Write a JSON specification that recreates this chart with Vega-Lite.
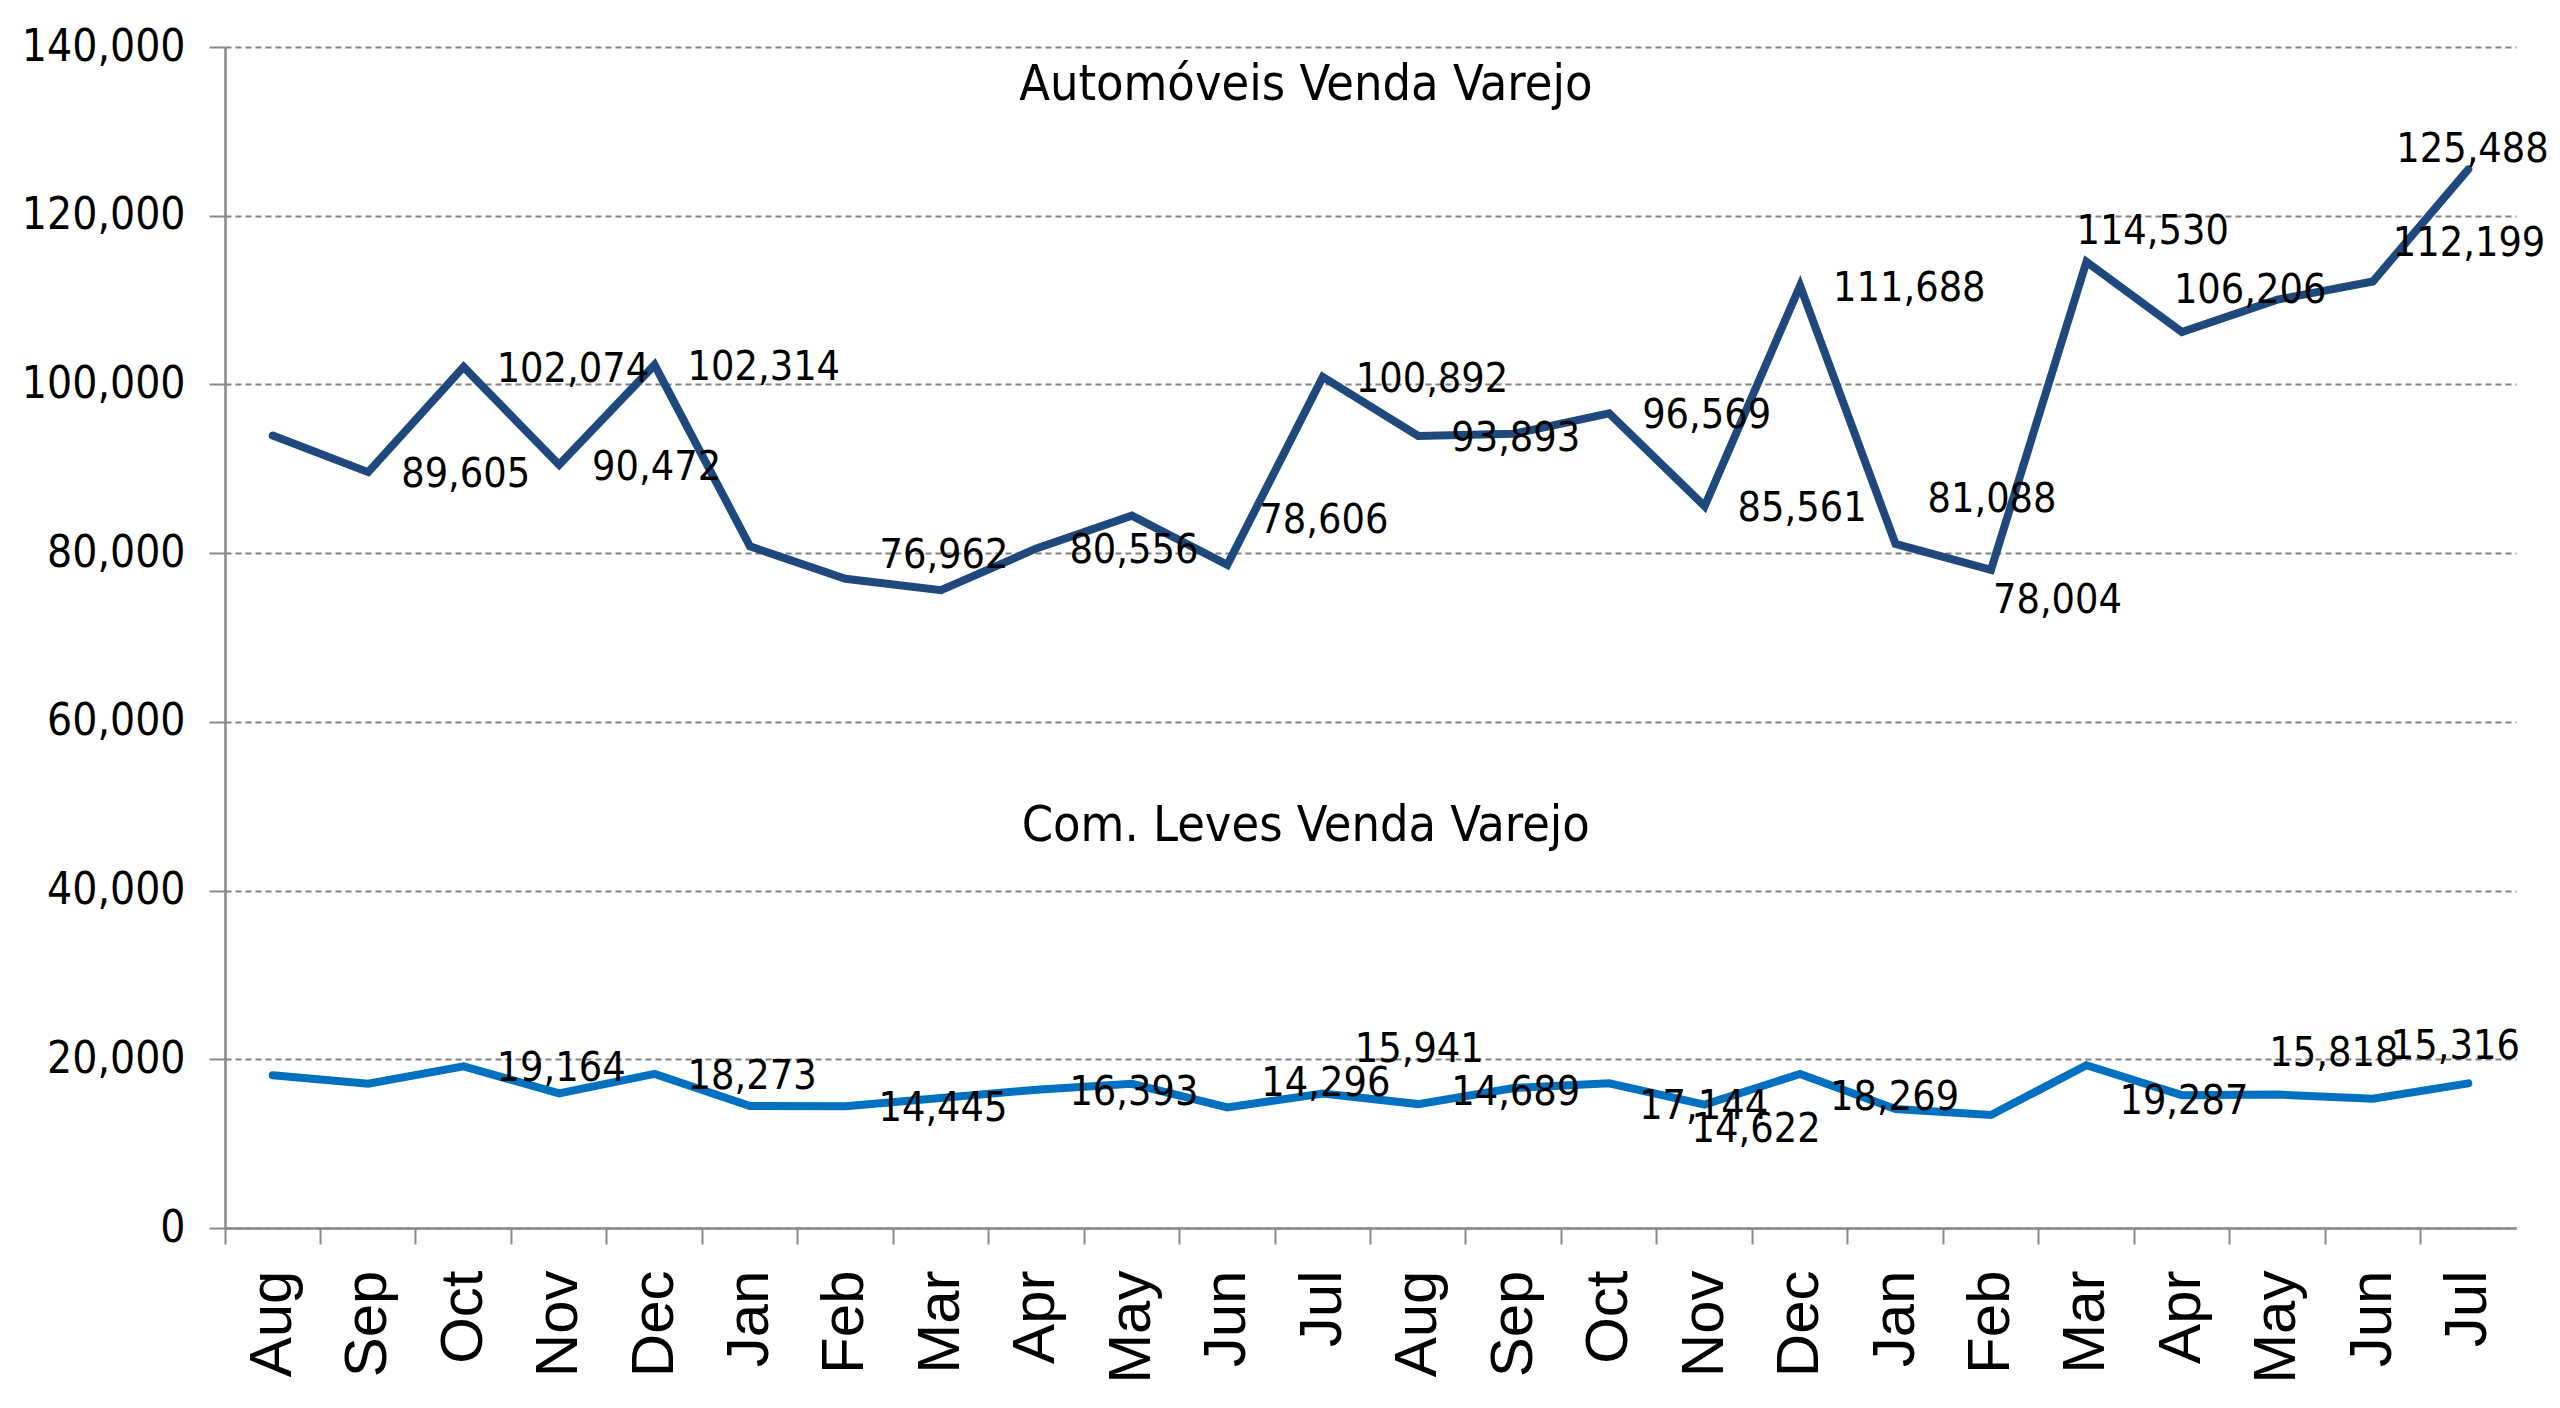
{
  "$schema": "https://vega.github.io/schema/vega-lite/v6.json",
  "width": 2291,
  "height": 1181,
  "autosize": {"type": "none"},
  "padding": {"left": 225, "top": 47, "right": 44, "bottom": 180},
  "background": "white",
  "config": {
    "view": {"stroke": null},
    "font": "Liberation Sans Narrow, DejaVu Sans Condensed, Liberation Sans, sans-serif"
  },
  "data": {
    "values": [
      {"k": "01 Aug", "serie": "Automóveis Venda Varejo", "valor": 93940},
      {"k": "02 Sep", "serie": "Automóveis Venda Varejo", "valor": 89605},
      {"k": "03 Oct", "serie": "Automóveis Venda Varejo", "valor": 102074},
      {"k": "04 Nov", "serie": "Automóveis Venda Varejo", "valor": 90472},
      {"k": "05 Dec", "serie": "Automóveis Venda Varejo", "valor": 102314},
      {"k": "06 Jan", "serie": "Automóveis Venda Varejo", "valor": 80800},
      {"k": "07 Feb", "serie": "Automóveis Venda Varejo", "valor": 76962},
      {"k": "08 Mar", "serie": "Automóveis Venda Varejo", "valor": 75600},
      {"k": "09 Apr", "serie": "Automóveis Venda Varejo", "valor": 80556},
      {"k": "10 May", "serie": "Automóveis Venda Varejo", "valor": 84450},
      {"k": "11 Jun", "serie": "Automóveis Venda Varejo", "valor": 78606},
      {"k": "12 Jul", "serie": "Automóveis Venda Varejo", "valor": 100892},
      {"k": "13 Aug", "serie": "Automóveis Venda Varejo", "valor": 93893},
      {"k": "14 Sep", "serie": "Automóveis Venda Varejo", "valor": 94150},
      {"k": "15 Oct", "serie": "Automóveis Venda Varejo", "valor": 96569},
      {"k": "16 Nov", "serie": "Automóveis Venda Varejo", "valor": 85561},
      {"k": "17 Dec", "serie": "Automóveis Venda Varejo", "valor": 111688},
      {"k": "18 Jan", "serie": "Automóveis Venda Varejo", "valor": 81088},
      {"k": "19 Feb", "serie": "Automóveis Venda Varejo", "valor": 78004},
      {"k": "20 Mar", "serie": "Automóveis Venda Varejo", "valor": 114530},
      {"k": "21 Apr", "serie": "Automóveis Venda Varejo", "valor": 106206},
      {"k": "22 May", "serie": "Automóveis Venda Varejo", "valor": 110050},
      {"k": "23 Jun", "serie": "Automóveis Venda Varejo", "valor": 112199},
      {"k": "24 Jul", "serie": "Automóveis Venda Varejo", "valor": 125488},
      {"k": "01 Aug", "serie": "Com. Leves Venda Varejo", "valor": 18100},
      {"k": "02 Sep", "serie": "Com. Leves Venda Varejo", "valor": 17100},
      {"k": "03 Oct", "serie": "Com. Leves Venda Varejo", "valor": 19164},
      {"k": "04 Nov", "serie": "Com. Leves Venda Varejo", "valor": 15950},
      {"k": "05 Dec", "serie": "Com. Leves Venda Varejo", "valor": 18273},
      {"k": "06 Jan", "serie": "Com. Leves Venda Varejo", "valor": 14450},
      {"k": "07 Feb", "serie": "Com. Leves Venda Varejo", "valor": 14445},
      {"k": "08 Mar", "serie": "Com. Leves Venda Varejo", "valor": 15400},
      {"k": "09 Apr", "serie": "Com. Leves Venda Varejo", "valor": 16393},
      {"k": "10 May", "serie": "Com. Leves Venda Varejo", "valor": 17100},
      {"k": "11 Jun", "serie": "Com. Leves Venda Varejo", "valor": 14296},
      {"k": "12 Jul", "serie": "Com. Leves Venda Varejo", "valor": 15941},
      {"k": "13 Aug", "serie": "Com. Leves Venda Varejo", "valor": 14689},
      {"k": "14 Sep", "serie": "Com. Leves Venda Varejo", "valor": 16600},
      {"k": "15 Oct", "serie": "Com. Leves Venda Varejo", "valor": 17144},
      {"k": "16 Nov", "serie": "Com. Leves Venda Varejo", "valor": 14622},
      {"k": "17 Dec", "serie": "Com. Leves Venda Varejo", "valor": 18269},
      {"k": "18 Jan", "serie": "Com. Leves Venda Varejo", "valor": 14100},
      {"k": "19 Feb", "serie": "Com. Leves Venda Varejo", "valor": 13400},
      {"k": "20 Mar", "serie": "Com. Leves Venda Varejo", "valor": 19287},
      {"k": "21 Apr", "serie": "Com. Leves Venda Varejo", "valor": 15750},
      {"k": "22 May", "serie": "Com. Leves Venda Varejo", "valor": 15818},
      {"k": "23 Jun", "serie": "Com. Leves Venda Varejo", "valor": 15316},
      {"k": "24 Jul", "serie": "Com. Leves Venda Varejo", "valor": 17150}
    ]
  },
  "encoding": {
    "x": {
      "field": "k",
      "type": "ordinal",
      "bandPosition": 0.5,
      "scale": {"type": "band", "paddingInner": 0, "paddingOuter": 0},
      "axis": {
        "title": null,
        "labelExpr": "substring(datum.value, 3)",
        "labelAngle": 270,
        "labelAlign": "right",
        "labelBaseline": "middle",
        "labelFont": "Liberation Sans",
        "labelFontSize": 60,
        "labelColor": "black",
        "labelPadding": 26,
        "bandPosition": 0,
        "tickSize": 16,
        "tickColor": "#898989",
        "tickWidth": 2,
        "domainColor": "#898989",
        "domainWidth": 2.5,
        "grid": false
      }
    },
    "y": {
      "field": "valor",
      "type": "quantitative",
      "scale": {"domain": [0, 140000]},
      "axis": {
        "title": null,
        "values": [0, 20000, 40000, 60000, 80000, 100000, 120000, 140000],
        "format": ",d",
        "labelFontSize": 44,
        "labelColor": "black",
        "labelPadding": 24,
        "tickSize": 16,
        "tickColor": "#898989",
        "tickWidth": 2,
        "domainColor": "#898989",
        "domainWidth": 2.5,
        "grid": true,
        "gridColor": "#808080",
        "gridDash": [6, 4],
        "gridWidth": 2
      }
    }
  },
  "layer": [
    {
      "mark": {"type": "line", "strokeWidth": 8, "strokeCap": "round"},
      "encoding": {
        "color": {
          "field": "serie",
          "type": "nominal",
          "scale": {
            "domain": ["Automóveis Venda Varejo", "Com. Leves Venda Varejo"],
            "range": ["#1F497D", "#0070C0"]
          },
          "legend": null
        }
      }
    },
    {
      "transform": [{"filter": "datum.k == '12 Jul' && datum.serie == 'Automóveis Venda Varejo'"}],
      "mark": {"type": "text", "fontSize": 50, "dx": -17, "align": "center", "baseline": "middle", "color": "black"},
      "encoding": {"y": {"datum": 135500}, "text": {"field": "serie"}}
    },
    {
      "transform": [{"filter": "datum.k == '12 Jul' && datum.serie == 'Com. Leves Venda Varejo'"}],
      "mark": {"type": "text", "fontSize": 50, "dx": -17, "align": "center", "baseline": "middle", "color": "black"},
      "encoding": {"y": {"datum": 47700}, "text": {"field": "serie"}}
    },
    {
      "transform": [{"filter": "(datum.serie == 'Automóveis Venda Varejo' && indexof(['02 Sep', '03 Oct', '04 Nov', '05 Dec', '09 Apr', '12 Jul', '13 Aug', '15 Oct', '16 Nov', '17 Dec'], datum.k) >= 0) || (datum.serie == 'Com. Leves Venda Varejo' && indexof(['03 Oct', '05 Dec', '07 Feb', '09 Apr'], datum.k) >= 0)"}],
      "mark": {"type": "text", "fontSize": 41, "align": "left", "baseline": "middle", "dx": 33, "dy": 3, "color": "black"},
      "encoding": {"text": {"field": "valor", "type": "quantitative", "format": ",d"}}
    },
    {
      "transform": [{"filter": "(datum.serie == 'Automóveis Venda Varejo' && datum.k == '07 Feb') || (datum.serie == 'Com. Leves Venda Varejo' && datum.k == '11 Jun')"}],
      "mark": {"type": "text", "fontSize": 41, "align": "left", "baseline": "middle", "dx": 34, "dy": -23, "color": "black"},
      "encoding": {"text": {"field": "valor", "type": "quantitative", "format": ",d"}}
    },
    {
      "transform": [{"filter": "datum.serie == 'Com. Leves Venda Varejo' && datum.k == '13 Aug'"}],
      "mark": {"type": "text", "fontSize": 41, "align": "left", "baseline": "middle", "dx": 33, "dy": -11, "color": "black"},
      "encoding": {"text": {"field": "valor", "type": "quantitative", "format": ",d"}}
    },
    {
      "transform": [{"filter": "(datum.serie == 'Automóveis Venda Varejo' && indexof(['11 Jun', '18 Jan'], datum.k) >= 0) || (datum.serie == 'Com. Leves Venda Varejo' && datum.k == '12 Jul')"}],
      "mark": {"type": "text", "fontSize": 41, "align": "left", "baseline": "middle", "dx": 32, "dy": -44, "color": "black"},
      "encoding": {"text": {"field": "valor", "type": "quantitative", "format": ",d"}}
    },
    {
      "transform": [{"filter": "datum.serie == 'Com. Leves Venda Varejo' && indexof(['15 Oct', '17 Dec'], datum.k) >= 0"}],
      "mark": {"type": "text", "fontSize": 41, "align": "left", "baseline": "middle", "dx": 30, "dy": 24, "color": "black"},
      "encoding": {"text": {"field": "valor", "type": "quantitative", "format": ",d"}}
    },
    {
      "transform": [{"filter": "datum.serie == 'Com. Leves Venda Varejo' && datum.k == '20 Mar'"}],
      "mark": {"type": "text", "fontSize": 41, "align": "left", "baseline": "middle", "dx": 33, "dy": 37, "color": "black"},
      "encoding": {"text": {"field": "valor", "type": "quantitative", "format": ",d"}}
    },
    {
      "transform": [{"filter": "datum.serie == 'Automóveis Venda Varejo' && datum.k == '19 Feb'"}],
      "mark": {"type": "text", "fontSize": 41, "align": "left", "baseline": "middle", "dx": 2, "dy": 31, "color": "black"},
      "encoding": {"text": {"field": "valor", "type": "quantitative", "format": ",d"}}
    },
    {
      "transform": [{"filter": "datum.serie == 'Com. Leves Venda Varejo' && datum.k == '16 Nov'"}],
      "mark": {"type": "text", "fontSize": 41, "align": "left", "baseline": "middle", "dx": -13, "dy": 25, "color": "black"},
      "encoding": {"text": {"field": "valor", "type": "quantitative", "format": ",d"}}
    },
    {
      "transform": [{"filter": "datum.serie == 'Automóveis Venda Varejo' && datum.k == '20 Mar'"}],
      "mark": {"type": "text", "fontSize": 41, "align": "left", "baseline": "middle", "dx": -10, "dy": -30, "color": "black"},
      "encoding": {"text": {"field": "valor", "type": "quantitative", "format": ",d"}}
    },
    {
      "transform": [{"filter": "(datum.serie == 'Automóveis Venda Varejo' && datum.k == '21 Apr') || (datum.serie == 'Com. Leves Venda Varejo' && datum.k == '22 May')"}],
      "mark": {"type": "text", "fontSize": 41, "align": "left", "baseline": "middle", "dx": -8, "dy": -41, "color": "black"},
      "encoding": {"text": {"field": "valor", "type": "quantitative", "format": ",d"}}
    },
    {
      "transform": [{"filter": "datum.serie == 'Automóveis Venda Varejo' && datum.k == '23 Jun'"}],
      "mark": {"type": "text", "fontSize": 41, "align": "left", "baseline": "middle", "dx": 20, "dy": -38, "color": "black"},
      "encoding": {"text": {"field": "valor", "type": "quantitative", "format": ",d"}}
    },
    {
      "transform": [{"filter": "datum.serie == 'Com. Leves Venda Varejo' && datum.k == '23 Jun'"}],
      "mark": {"type": "text", "fontSize": 41, "align": "left", "baseline": "middle", "dx": 18, "dy": -52, "color": "black"},
      "encoding": {"text": {"field": "valor", "type": "quantitative", "format": ",d"}}
    },
    {
      "transform": [{"filter": "datum.serie == 'Automóveis Venda Varejo' && datum.k == '24 Jul'"}],
      "mark": {"type": "text", "fontSize": 41, "align": "left", "baseline": "middle", "dx": -72, "dy": -19, "color": "black"},
      "encoding": {"text": {"field": "valor", "type": "quantitative", "format": ",d"}}
    }
  ]
}
